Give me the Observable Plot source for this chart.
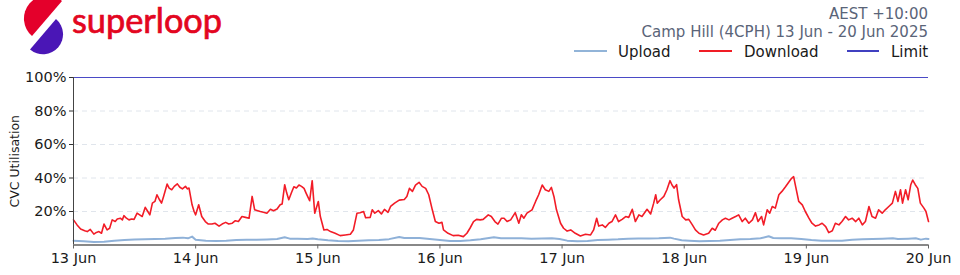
<!DOCTYPE html>
<html>
<head>
<meta charset="utf-8">
<script src="https://cdn.jsdelivr.net/npm/d3@7"></script>
<script src="https://cdn.jsdelivr.net/npm/@observablehq/plot@0.6"></script>
<style>
  body { margin: 0; background: #fff; font-family: "DejaVu Sans", sans-serif; }
  #wrap { width: 960px; position: relative; }
  #head { position: relative; height: 65px; }
  .hd { position: absolute; font-size: 15px; line-height: 18px; white-space: nowrap; }
  .sub { color: #5a6478; right: 32px; }
  .lg { color: #1a1a1a; }
  .ln { position: absolute; height: 2px; }
</style>
</head>
<body>
<div id="wrap">
  <div id="head">
    <svg width="240" height="60" style="position:absolute;left:0;top:0">
      <path d="M 32 36 A 22 22 0 0 1 62 1 Z" fill="#e4002b"/>
      <path d="M 56 19 A 19.5 19.5 0 0 1 30 49.5 Z" fill="#4a16b6"/>
      <text x="72" y="33" font-family="Lato, 'Open Sans', sans-serif" font-size="34" fill="#e3061f" stroke="#e3061f" stroke-width="0.7" textLength="150" lengthAdjust="spacingAndGlyphs">superloop</text>
    </svg>
    <div class="hd sub" id="tz" style="top:5px"></div>
    <div class="hd sub" id="site" style="top:22.5px"></div>
    <div class="ln" style="left:574px;top:50px;width:33px;background:#92b4d8"></div>
    <div class="hd lg" id="lg0" style="left:618px;top:42.5px"></div>
    <div class="ln" style="left:699px;top:50px;width:33px;background:#f01d25"></div>
    <div class="hd lg" id="lg1" style="left:744px;top:42.5px"></div>
    <div class="ln" style="left:847px;top:50px;width:32px;background:#4040c0"></div>
    <div class="hd lg" id="lg2" style="left:891px;top:42.5px"></div>
  </div>
  <div id="chart"></div>
</div>
<script>
// ---- Data (hours since 13 Jun 2025 00:00, percent CVC utilisation) ----
const timezoneLabel = "AEST +10:00";
const siteLabel = "Camp Hill (4CPH) 13 Jun - 20 Jun 2025";
const seriesNames = ["Upload", "Download", "Limit"];
const yLabel = "CVC Utilisation";

const xTickHours = [0, 24, 48, 72, 96, 120, 144, 168];
const xTickLabels = ["13 Jun", "14 Jun", "15 Jun", "16 Jun", "17 Jun", "18 Jun", "19 Jun", "20 Jun"];
const yTicks = [20, 40, 60, 80, 100];
const yTickLabels = ["20%", "40%", "60%", "80%", "100%"];
const limitValue = 100;

const download = [
  [0,15],[0.7,12],[1.4,9.5],[2.2,8.5],[2.7,8],[3.3,9.3],[4,6.5],[4.5,7.5],[5,8],[5.5,7],[6,12.5],[6.6,9],[7.1,10],[7.6,15],[8.2,14],[8.6,15.5],[9.2,16],[9.6,15],[9.9,17.5],[10.4,16],[10.9,15],[11.4,15.5],[11.9,15.3],[12.5,19],[13,18],[13.5,17],[14.1,22.5],[14.6,20],[15,18],[15.5,25],[16,26],[16.4,30],[16.9,27],[17.3,25],[17.7,29],[18.4,36.4],[18.8,34],[19.3,33],[19.8,35],[20.4,36.5],[20.9,34.5],[21.4,33.5],[22,35],[22.4,33.5],[22.7,34],[23.3,24],[23.7,20],[24,18],[24.6,24],[25.2,17],[25.9,14],[26.5,12.5],[27.2,12.5],[27.8,13],[28.6,11.3],[29.2,12.5],[29.9,13.5],[30.5,12.5],[31.2,13],[31.8,14.5],[32.4,14],[33.1,17],[33.8,16.5],[34.5,16],[35.1,29],[35.6,21],[36.2,20.5],[36.7,20],[37.3,19.5],[38,19],[38.7,21.3],[39.3,20.5],[40,21.5],[40.6,24],[41,24.5],[41.5,36],[41.9,31],[42.3,27],[42.8,31],[43.3,34.8],[43.8,34],[44.3,35.8],[44.8,35],[45.3,33.8],[45.7,31],[46,29],[46.4,26.4],[46.9,38.4],[47.4,19],[48.1,26],[48.5,17],[49.2,9],[49.8,9.3],[50.5,8],[51.4,7],[52.4,5.6],[53.4,6],[54.4,6.4],[55,9],[55.7,19],[56.3,19.3],[57,20],[57.4,16.3],[58.3,16.5],[58.7,21],[59.2,19],[59.9,20.5],[60.5,18.5],[61.1,21.3],[61.8,19.5],[62.3,23],[63.1,25],[64,26.8],[65,27.2],[65.5,29],[66,33.8],[66.6,32],[67.2,35.8],[67.9,37.4],[68.5,35],[69.2,33.8],[69.8,30],[70.5,21],[71.1,14],[71.8,13],[72.4,13.5],[72.7,9],[73.6,7],[74.6,5.6],[75.6,5.8],[76.6,5],[77.3,7],[77.9,10],[78.6,14],[79.2,15.3],[79.9,15],[80.5,15.3],[81.5,18],[82.1,17],[82.8,14],[83.4,12.5],[84.1,16],[84.6,16],[85.2,14],[85.9,15],[86.8,19.3],[87.5,13],[88,18],[88.5,16],[89.1,19],[90.1,21],[90.8,26],[91.4,30],[92.1,35.8],[92.7,33],[93.4,32],[93.9,34.4],[94.4,29],[94.9,21],[95.7,13],[96.3,10],[97,8.3],[97.7,9],[98.6,7],[99.6,5.4],[100.6,6.4],[101.6,6],[102.2,9],[102.8,16],[103.2,11.3],[103.9,12],[104.5,10.5],[105.2,13],[105.8,14],[106.5,18],[107.1,14],[107.8,15.3],[108.5,17],[109.1,16.5],[109.8,21.3],[110.4,14],[111.1,18],[111.7,17],[112.7,21.3],[113.4,18.5],[114,25],[114.4,30],[114.7,25],[115.3,27],[116,29],[116.6,33],[117.2,38.4],[117.6,35.8],[118,34],[118.5,36],[118.9,27],[119.6,17],[120.3,15],[120.9,15.3],[121.6,12],[122.2,9],[122.9,7],[123.8,6],[124.8,7],[125.5,10],[126.1,8.8],[126.8,13],[127.5,15],[128.1,16],[128.8,15],[129.4,16],[130.1,17],[130.7,18],[131.4,14],[132,16],[132.7,13],[133.4,15],[134,19.3],[134.5,14],[135.2,17],[135.6,12],[136.3,21],[136.8,19],[137.3,23],[137.9,22],[138.6,30],[139.2,32],[139.9,34.8],[140.6,37.8],[141.1,39.8],[141.5,40.8],[141.9,34.8],[142.5,26],[143.2,24],[143.8,20],[144.5,16],[145.1,13],[145.8,11.3],[146.5,12],[147.1,13],[147.8,11],[148.4,7.4],[149.1,8.5],[149.7,13],[150.4,12],[151,14],[151.7,17],[152.3,15],[153,16],[153.7,14],[154.3,16],[155,12],[155.6,14],[156.3,23],[156.9,17],[157.6,16],[158.2,21],[158.9,19],[159.5,21],[160.2,23],[160.9,25],[161.5,32],[162,26],[162.5,33],[162.9,25],[163.5,33],[164,27],[164.5,35.8],[164.9,38.8],[165.4,36],[165.9,33.8],[166.4,25],[167.1,22],[167.5,20],[168,14]
];

const upload = [
  [0,2.6],[2,2.2],[4,1.8],[6,2],[8,2.6],[10,3],[12,3.3],[14,3.4],[16,3.6],[18,3.8],[20,4.2],[21.5,4.4],[22.5,4],[23.3,5],[24,3.2],[26,2.6],[28,2.4],[30,2.6],[32,3],[34,3.2],[36,3.1],[38,3.3],[40,3.6],[41.5,4.6],[42.5,3.8],[44,3.8],[46,3.6],[47,3.9],[48,3.4],[50,2.8],[52,2.4],[54,2.3],[56,2.6],[58,2.9],[60,3],[62,3.5],[64,4.8],[65,4.2],[66,4.2],[68,4.2],[70,3.6],[72,3],[74,2.4],[76,2.4],[78,2.8],[80,3.4],[82.6,4.6],[84,4],[86,4],[88,4],[90,3.8],[92,3.9],[94,4],[95.5,3.6],[97,2.6],[99,2.2],[101,2.4],[103,3],[105,3.2],[107,3.4],[109,3.8],[111,3.9],[113,3.9],[115,4],[117.2,4.4],[118,3.8],[119.5,2.8],[121,2.6],[123,2.2],[125,2.4],[127,2.6],[129,3],[131,3.4],[133,3.6],[135,4],[136.6,5.2],[137.5,4.2],[139,4],[141,4],[143,3.6],[145,3],[147,2.6],[149,2.6],[151,2.6],[153,3.2],[155,3.4],[157,3.6],[159,3.8],[161,4],[162,3.6],[164,3.8],[165.5,4],[166.5,3.2],[167.5,3.8],[168,3.6]
];

// ---- Header text ----
document.getElementById("tz").textContent = timezoneLabel;
document.getElementById("site").textContent = siteLabel;
seriesNames.forEach((n, i) => document.getElementById("lg" + i).textContent = n);

// ---- Build chart ----
const start = Date.UTC(2025, 5, 13);
const toDate = h => new Date(start + h * 3600e3);
const dlRows = download.map(([h, v]) => ({t: toDate(h), v}));
const ulRows = upload.map(([h, v]) => ({t: toDate(h), v}));
const xTickDates = xTickHours.map(toDate);

const chart = Plot.plot({
  width: 960,
  height: 210,
  marginLeft: 73,
  marginRight: 32,
  marginTop: 12,
  marginBottom: 30.5,
  style: {fontFamily: "'DejaVu Sans', sans-serif", fontSize: "14.5px", color: "#1a1a1a", background: "#fff", overflow: "visible"},
  x: {type: "utc", domain: [toDate(0), toDate(168)]},
  y: {domain: [0, 100]},
  marks: [
    Plot.gridY(yTicks.filter(d => d < limitValue), {stroke: "#e0e5ec", strokeOpacity: 1, strokeDasharray: "5,4"}),
    Plot.line(ulRows, {x: "t", y: "v", stroke: "#8fb1d8", strokeWidth: 2}),
    Plot.line(dlRows, {x: "t", y: "v", stroke: "#f21c27", strokeWidth: 1.6}),
    Plot.ruleY([limitValue], {stroke: "#4a4ac6", strokeWidth: 1.1}),
    Plot.ruleX([toDate(0)], {y1: 0, y2: 100, stroke: "#444", strokeWidth: 1}),
    Plot.ruleY([0], {stroke: "#888", strokeWidth: 2}),
    Plot.axisY(yTicks, {
      tickFormat: d => yTickLabels[yTicks.indexOf(d)],
      tickSize: 4, tickPadding: 3, fontSize: 14.5, label: null, stroke: "#333"
    }),
    Plot.axisX(xTickDates, {
      tickFormat: d => xTickLabels[xTickDates.findIndex(t => +t === +d)],
      tickSize: 4, tickPadding: 4, fontSize: 14.5, label: null, stroke: "#666"
    }),
    Plot.text([yLabel], {
      text: d => d, frameAnchor: "left", dx: -59, rotate: -90,
      textAnchor: "middle", lineAnchor: "middle", fontSize: 12.5, fill: "#1a1a1a"
    })
  ]
});
document.getElementById("chart").appendChild(chart);
</script>
</body>
</html>
